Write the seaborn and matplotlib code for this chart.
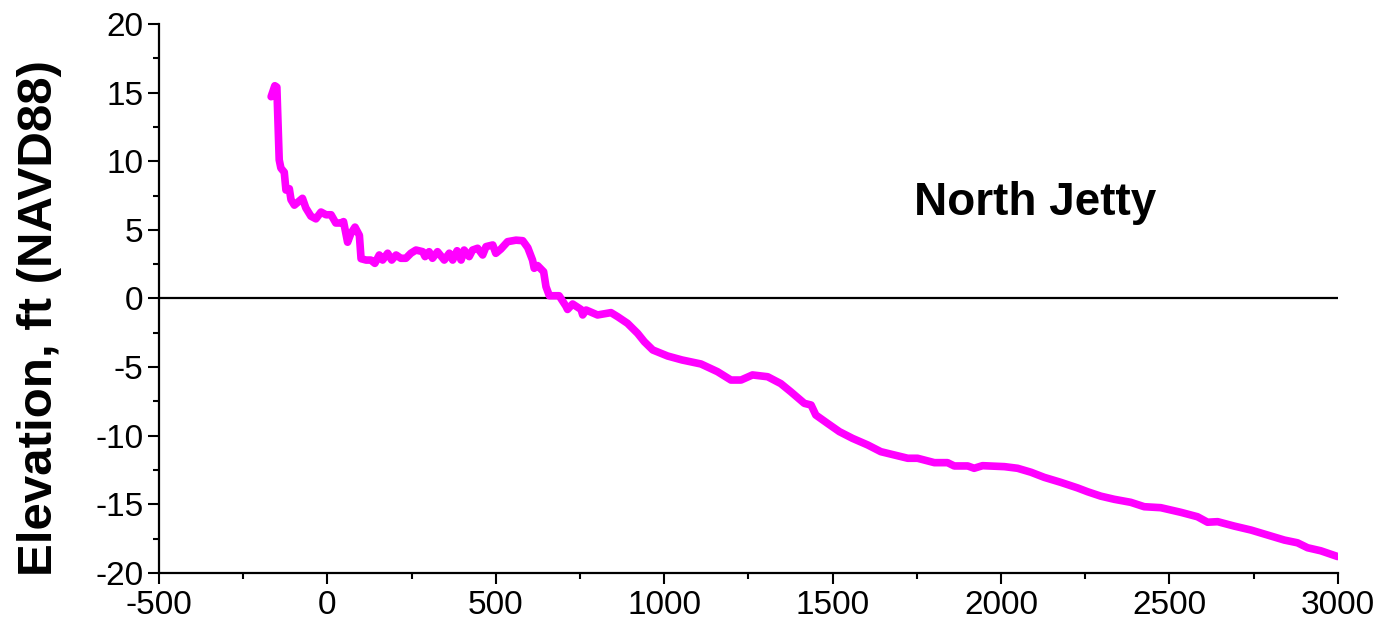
import pandas as pd
import matplotlib
matplotlib.use('Agg')
import matplotlib.pyplot as plt
import seaborn as sns
from matplotlib.ticker import MultipleLocator

# Profile (distance, elevation)
distance = [-167, -156, -150, -146, -143, -138, -128, -123, -113, -108, -98, -74, -64,
            -49, -34, -19, -4, 11, 25, 40, 48, 60, 70, 82, 95, 100, 115, 129, 141, 154,
            164, 179, 191, 204, 218, 233, 248, 263, 283, 290, 302, 312, 327, 347, 362,
            372, 385, 397, 406, 421, 431, 446, 461, 471, 491, 500, 515, 535, 560, 580,
            595, 609, 614, 624, 642, 649, 659, 688, 708, 713, 728, 753, 758, 768, 802,
            842, 862, 891, 921, 941, 966, 1010, 1053, 1109, 1158, 1198, 1228, 1262, 1307,
            1346, 1376, 1416, 1436, 1450, 1485, 1520, 1559, 1604, 1643, 1683, 1723, 1752,
            1802, 1841, 1861, 1901, 1920, 1945, 2010, 2049, 2089, 2128, 2178, 2227, 2257,
            2296, 2336, 2385, 2425, 2474, 2534, 2583, 2613, 2643, 2692, 2742, 2791, 2841,
            2880, 2910, 2949, 2999]
elevation = [14.7, 15.5, 15.4, 12.5, 10.1, 9.5, 9.2, 7.9, 8.0, 7.2, 6.8, 7.3, 6.6,
             6.0, 5.8, 6.3, 6.1, 6.1, 5.5, 5.5, 5.6, 4.1, 4.75, 5.2, 4.6, 2.9, 2.8, 2.8, 2.56, 3.17,
             2.8, 3.3, 2.8, 3.17, 2.93, 2.93, 3.3, 3.53, 3.41, 3.05, 3.41, 2.93, 3.41, 2.8, 3.3,
             2.8, 3.48, 2.8, 3.53, 3.05, 3.53, 3.66, 3.17, 3.78, 3.9, 3.29, 3.6, 4.14, 4.25, 4.21,
             3.7, 2.8, 2.2, 2.4, 1.95, 0.86, 0.2, 0.2, -0.55, -0.8, -0.4, -0.8, -1.2, -0.84, -1.2,
             -1.03, -1.33, -1.81, -2.54, -3.15, -3.75, -4.19, -4.48, -4.77, -5.33, -5.94, -5.94, -5.57, -5.7,
             -6.2, -6.8, -7.64, -7.76, -8.49, -9.1, -9.7, -10.19, -10.67, -11.16, -11.4, -11.64, -11.64,
             -11.96, -11.96, -12.2, -12.2, -12.37, -12.18, -12.25, -12.37, -12.66, -13.03, -13.4, -13.8, -14.08,
             -14.4, -14.63, -14.85, -15.17, -15.24, -15.58, -15.9, -16.3, -16.26, -16.58, -16.87, -17.23, -17.6,
             -17.8, -18.16, -18.38, -18.8]

profile = pd.DataFrame({'distance': distance, 'elevation': elevation})

sns.set_style('ticks')
plt.rcParams['font.family'] = ['Liberation Sans', 'DejaVu Sans']
plt.rcParams['axes.unicode_minus'] = False
plt.rcParams['text.color'] = 'black'

fig = plt.figure(figsize=(13.81, 6.31), dpi=100)
ax = fig.add_axes([0.1151, 0.0919, 0.8537, 0.8701])

sns.lineplot(data=profile, x='distance', y='elevation', sort=False,
             color='#FF00FF', linewidth=5.5, ax=ax)
ax.axhline(0, color='black', linewidth=1.6, zorder=1)

ax.set_xlim(-500, 3000)
ax.set_ylim(-20, 20)
ax.xaxis.set_major_locator(MultipleLocator(500))
ax.xaxis.set_minor_locator(MultipleLocator(250))
ax.yaxis.set_major_locator(MultipleLocator(5))
ax.yaxis.set_minor_locator(MultipleLocator(2.5))
ax.tick_params(which='major', direction='out', length=8, width=1.5,
               labelsize=24, colors='black', pad=3)
ax.tick_params(axis='x', which='major', pad=4)
ax.tick_params(which='minor', direction='out', length=4, width=1.5, colors='black')

sns.despine(ax=ax)
for s in ['left', 'bottom']:
    ax.spines[s].set_linewidth(1.6)
    ax.spines[s].set_color('black')

ax.set_xlabel('')
ax.set_ylabel('')
fig.text(40 / 1381, 1 - 318 / 631, 'Elevation, ft (NAVD88)', fontsize=35.5,
         fontweight='bold', rotation=90, ha='center', va='center', color='black')
ax.text(1741, 6.1, 'North Jetty', fontsize=33, fontweight='bold',
        ha='left', va='baseline', color='black')

fig.savefig('out.png', dpi=100)
